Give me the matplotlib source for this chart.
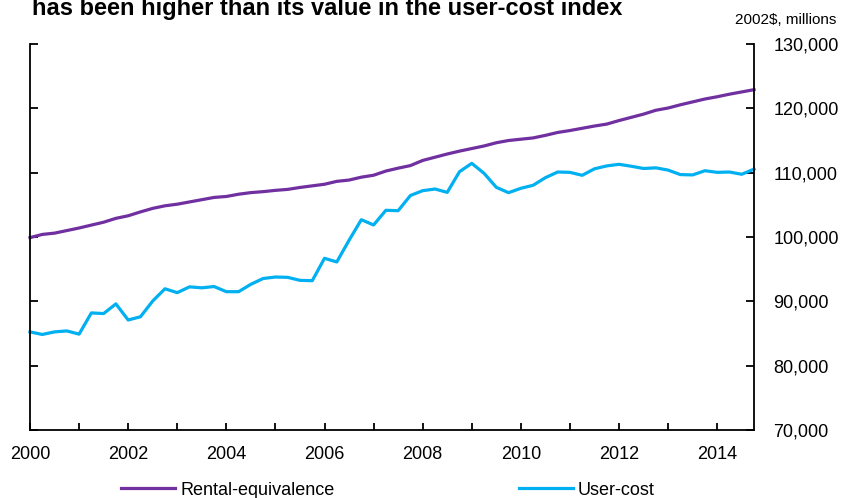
import numpy as np
import matplotlib.pyplot as plt
from matplotlib.ticker import FuncFormatter, MultipleLocator

plt.rcParams['font.family'] = ['Liberation Sans', 'DejaVu Sans']

# quarterly, 2000Q1 .. 2014Q4
rental = [
    99900, 100400, 100600, 101000,
    101400, 101850, 102300, 102900,
    103300, 103900, 104450, 104850,
    105100, 105450, 105800, 106150,
    106300, 106650, 106900, 107050,
    107250, 107400, 107700, 107950,
    108200, 108650, 108850, 109300,
    109600, 110250, 110700, 111100,
    111900, 112400, 112900, 113350,
    113750, 114150, 114650, 115000,
    115200, 115400, 115800, 116250,
    116550, 116900, 117250, 117550,
    118100, 118600, 119100, 119700,
    120050, 120550, 121000, 121450,
    121800, 122200, 122550, 122900,
]
usercost = [
    85250, 84850, 85250, 85400,
    84900, 88200, 88100, 89600,
    87100, 87600, 90050, 91950,
    91350, 92250, 92100, 92300,
    91500, 91500, 92650, 93550,
    93780, 93730, 93260, 93210,
    96690, 96120, 99490, 102690,
    101870, 104150, 104090, 106450,
    107200, 107460, 106940, 110150,
    111450, 109900, 107720, 106890,
    107570, 108040, 109220, 110100,
    110050, 109590, 110600, 111050,
    111300, 111000, 110650, 110750,
    110400, 109700, 109650, 110300,
    110050, 110100, 109750, 110550,
]
quarters = 2000 + np.arange(len(rental)) / 4

purple = '#7030A0'
blue = '#00B0F0'

fig = plt.figure(figsize=(8.41, 4.98), dpi=100)
ax = fig.add_axes([30/841, 1 - 430/498, 724/841, 386/498])

ax.plot(quarters, rental, color=purple, lw=2.3, label='Rental-equivalence', clip_on=False)
ax.plot(quarters, usercost, color=blue, lw=2.3, label='User-cost', clip_on=False)

ax.set_xlim(2000, 2014.75)
ax.set_ylim(70000, 130000)
ax.yaxis.set_major_locator(MultipleLocator(10000))
ax.yaxis.set_major_formatter(FuncFormatter(lambda v, p: f'{int(v):,}'))
ax.xaxis.set_major_locator(MultipleLocator(2))
ax.xaxis.set_minor_locator(MultipleLocator(1))

ax.spines['top'].set_visible(False)
for s in ['left', 'right', 'bottom']:
    ax.spines[s].set_linewidth(1.3)
ax.tick_params(axis='y', which='both', direction='in', left=True, right=True,
               labelleft=False, labelright=True, length=6, width=1.3,
               labelsize=13, pad=14)
ax.tick_params(axis='x', which='both', direction='in', length=5, width=1.3,
               labelsize=13, pad=11.5)

fig.text(32/841, 1 - 15/498, 'has been higher than its value in the user-cost index',
         fontsize=17, fontweight='bold', va='baseline', ha='left')
fig.text(836/841, 1 - 20/498, '2002$, millions', fontsize=11, ha='right', va='center')

fig.legend(loc='center', bbox_to_anchor=(388/841, 1 - 490/498), ncol=2,
           frameon=False, fontsize=13, handlelength=3.0, handletextpad=0.28,
           columnspacing=10.2)

fig.savefig('out.png', dpi=100)
